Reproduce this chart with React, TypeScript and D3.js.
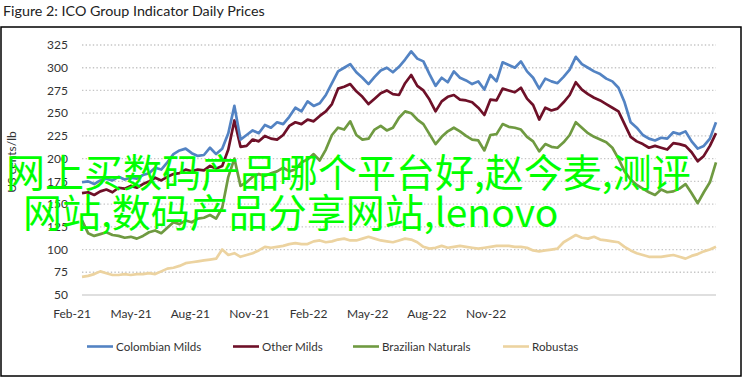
import React from "react";
import * as d3 from "d3";

const title = "Figure 2: ICO Group Indicator Daily Prices";
const yAxisTitle = "US cents/lb";
const xTickLabels = ["Feb-21", "May-21", "Aug-21", "Nov-21", "Feb-22", "May-22", "Aug-22", "Nov-22"];
const yTicks = [50, 75, 100, 125, 150, 175, 200, 225, 250, 275, 300, 325];
const seriesNames = ["Colombian Milds", "Other Milds", "Brazilian Naturals", "Robustas"];
const seriesColors = ["#5383c3", "#6e1028", "#6f9a41", "#ecd3a0"];

// weekly samples, Feb 2021 – Jan 2023 (US cents/lb)
const colombianMilds = [
  174, 175, 172, 176, 178, 176, 180, 177, 179, 178, 182, 184, 190, 188, 196, 205, 209, 211, 206, 203,
  204, 212, 205, 211, 228, 258, 221, 226, 231, 228, 237, 234, 240, 238, 246, 256, 252, 263, 258, 261,
  270, 283, 296, 300, 304, 295, 289, 282, 290, 297, 300, 295, 301, 309, 318, 310, 307, 293, 280, 289,
  284, 296, 289, 286, 282, 285, 276, 292, 285, 306, 303, 300, 307, 296, 289, 277, 288, 285, 283, 290,
  298, 312, 304, 300, 296, 293, 288, 285, 278, 262, 240, 234, 226, 222, 220, 223, 222, 229, 227, 230,
  219, 211, 214, 222, 240,
];
const otherMilds = [
  162, 163, 160, 164, 166, 163, 168, 167, 170, 168, 172, 175, 179, 176, 180, 183, 184, 188, 186, 188,
  187, 192, 189, 192, 210, 242, 213, 214, 221, 219, 225, 222, 221, 226, 236, 240, 238, 243, 241, 247,
  252, 260, 277, 279, 282, 274, 268, 260, 266, 272, 275, 271, 270, 283, 292, 280, 275, 265, 252, 263,
  268, 270, 265, 264, 262, 256, 248, 265, 264, 277, 275, 273, 278, 266, 259, 243, 256, 253, 255, 262,
  270, 284, 276, 271, 267, 264, 260, 256, 252, 238, 224, 219, 216, 212, 214, 212, 210, 217, 216, 214,
  207, 197, 203, 214, 228,
];
const brazilianNaturals = [
  132, 118, 115, 117, 119, 116, 115, 113, 114, 112, 115, 119, 121, 118, 124, 130, 128, 132, 130, 134,
  135, 138, 134, 146, 180, 200, 170, 174, 180, 183, 181, 184, 186, 190, 186, 188, 196, 199, 205, 198,
  210, 226, 234, 232, 241, 226, 221, 222, 232, 236, 231, 234, 245, 252, 250, 243, 238, 227, 216, 224,
  230, 234, 230, 225, 221, 220, 209, 226, 227, 238, 235, 234, 232, 224, 219, 208, 216, 213, 212, 218,
  226, 240, 234, 228, 224, 221, 218, 212, 200, 186, 177, 171, 167, 163, 160, 166, 163, 164, 167, 172,
  162, 151, 163, 174, 196,
];
const robustas = [
  70, 71, 73, 76, 74, 72, 72, 73, 72, 73, 73, 74, 73, 76, 79, 80, 82, 85, 86, 87,
  88, 89, 90, 100, 94, 96, 92, 94, 96, 99, 103, 102, 103, 104, 106, 107, 106, 106, 109, 110,
  108, 109, 111, 112, 110, 110, 112, 114, 112, 110, 109, 108, 110, 112, 111, 108, 103, 101, 102, 104,
  102, 103, 104, 103, 102, 101, 102, 103, 104, 104, 104, 103, 103, 102, 99, 98, 99, 100, 101, 108,
  112, 116, 113, 112, 114, 111, 110, 109, 108, 103, 99, 96, 94, 92, 92, 92, 93, 94, 92, 90,
  93, 95, 98, 100, 103,
];
const watermarkLines = ["网上买数码产品哪个平台好,赵今麦,测评", "网站,数码产品分享网站,lenovo"];

const W = 745;
const H = 378;
const plot = { left: 82, right: 716, top: 45, bottom: 295 };
const font = "Lato, 'Liberation Sans', sans-serif";

export default function App() {
  const allSeries = [colombianMilds, otherMilds, brazilianNaturals, robustas];
  const x = d3.scaleLinear().domain([0, colombianMilds.length - 1]).range([plot.left, plot.right]);
  const y = d3.scaleLinear().domain([50, 325]).range([plot.bottom, plot.top]);
  const xLab = d3.scaleLinear().domain([0, xTickLabels.length - 1]).range([72, 486]);
  const line = d3
    .line<number>()
    .x((_, i) => x(i))
    .y((d) => y(d))
    .curve(d3.curveLinear);
  const legendX = [87, 233, 353, 503];

  return (
    <svg width={W} height={H} style={{ position: "absolute", left: 0, top: 0, background: "#fff" }}>
      <rect x={0} y={0} width={W} height={H} fill="#fff" />
      <text x={3} y={16} fontFamily={font} fontSize={14.3} fill="#222">
        {title}
      </text>
      <rect x={1} y={27} width={740} height={349} fill="none" stroke="#000" strokeWidth={1.5} />
      {yTicks.map((t) =>
        t === 50 ? (
          <line key={t} x1={plot.left} x2={plot.right} y1={y(t)} y2={y(t)} stroke="#d4d4d4" strokeWidth={1.3} />
        ) : (
          <line
            key={t}
            x1={plot.left}
            x2={plot.right}
            y1={y(t)}
            y2={y(t)}
            stroke="#c6c6c6"
            strokeWidth={1.3}
            strokeDasharray="1.4 2.2"
          />
        )
      )}
      {yTicks.map((t) => (
        <text key={t} x={68} y={y(t)} dy="0.35em" textAnchor="end" fontFamily={font} fontSize={12} fill="#333">
          {t}
        </text>
      ))}
      <text
        transform={`translate(16,162) rotate(-90)`}
        textAnchor="middle"
        fontFamily={font}
        fontSize={12}
        fill="#333"
      >
        {yAxisTitle}
      </text>
      {xTickLabels.map((l, i) => (
        <text key={l} x={xLab(i)} y={318} textAnchor="middle" fontFamily={font} fontSize={12} fill="#333">
          {l}
        </text>
      ))}
      {[3, 2, 1, 0].map((k) => (
        <path
          key={k}
          d={line(allSeries[k]) || ""}
          fill="none"
          stroke={seriesColors[k]}
          strokeWidth={2.7}
          strokeLinejoin="round"
        />
      ))}
      {seriesNames.map((n, k) => (
        <g key={n}>
          <line x1={legendX[k]} x2={legendX[k] + 26} y1={346.5} y2={346.5} stroke={seriesColors[k]} strokeWidth={2.6} />
          <text x={legendX[k] + 29} y={346.5} dy="0.35em" fontFamily={font} fontSize={11.6} fill="#333">
            {n}
          </text>
        </g>
      ))}
      {watermarkLines.map((l, i) => (
        <text
          key={i}
          x={i === 0 ? 6 : 23}
          y={187 + i * 40}
          fontFamily="'Noto Sans CJK SC', sans-serif"
          fontSize={39}
          fill="#00ff00"
        >
          {l}
        </text>
      ))}
    </svg>
  );
}
